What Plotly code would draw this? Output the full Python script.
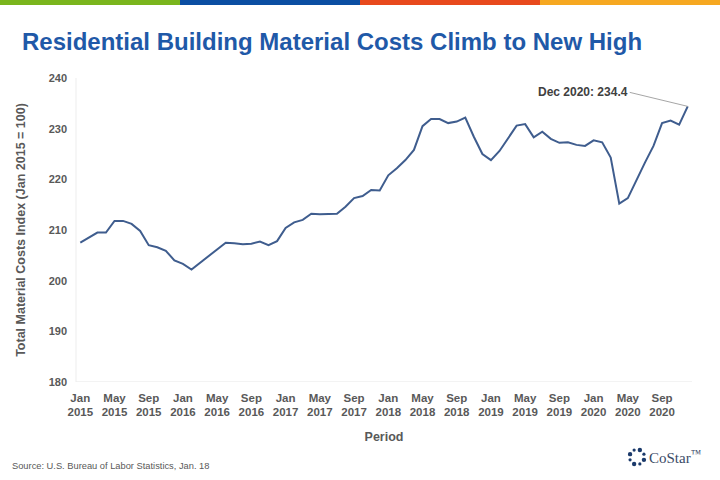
import math
import plotly.graph_objects as go

months = ["Jan", "Feb", "Mar", "Apr", "May", "Jun", "Jul", "Aug", "Sep", "Oct", "Nov", "Dec"]
years = [2015, 2016, 2017, 2018, 2019, 2020]
periods = [f"{m} {y}" for y in years for m in months]

index_values = [
    207.5, 208.5, 209.5, 209.5, 211.8, 211.8, 211.2, 209.8, 207.0, 206.6, 205.9, 204.0,
    203.3, 202.2, 203.5, 204.9, 206.2, 207.5, 207.4, 207.2, 207.3, 207.7, 207.0, 207.8,
    210.4, 211.5, 212.0, 213.2, 213.1, 213.1, 213.2, 214.6, 216.3, 216.7, 217.9, 217.8,
    220.8, 222.2, 223.8, 225.8, 230.5, 231.9, 231.9, 231.1, 231.4, 232.2, 228.4, 225.0,
    223.8, 225.6, 228.2, 230.6, 230.9, 228.3, 229.4, 228.0, 227.2, 227.3, 226.8, 226.6,
    227.7, 227.3, 224.3, 215.2, 216.3, 219.9, 223.3, 226.6, 231.1, 231.6, 230.8, 234.4,
]

tick_idx = list(range(0, 72, 4))
tick_text = [periods[i].replace(" ", "<br>") for i in tick_idx]
y_ticks = [180, 190, 200, 210, 220, 230, 240]

x_idx = list(range(len(periods)))

# plot-area geometry (pixels) used to place paper-referenced decorations
L, R, T, B = 76, 692, 78, 382
PW, PH = R - L, B - T


def px(xp):
    return (xp - L) / PW


def py(yp):
    return (B - yp) / PH


fig = go.Figure()
fig.add_trace(go.Scatter(
    x=x_idx, y=index_values, mode="lines",
    line=dict(color="#3F5D8E", width=2),
    customdata=periods, hovertemplate="%{customdata}: %{y}<extra></extra>",
))

gray = "#595959"
fig.update_layout(
    width=720, height=480,
    margin=dict(l=L, r=720 - R, t=T, b=480 - B),
    paper_bgcolor="white", plot_bgcolor="white",
    showlegend=False,
    font=dict(family="Liberation Sans, Arial, sans-serif", color=gray),
    xaxis=dict(
        range=[-0.5, 71.5], tickmode="array", tickvals=tick_idx, ticktext=tick_text,
        tickfont=dict(size=11.5, color=gray, weight="bold"),
        showgrid=False, zeroline=False, showline=False, ticks="",
        ticklabelstandoff=7,
        title=dict(text="Period", font=dict(size=12.5, color=gray, weight="bold"), standoff=14),
    ),
    yaxis=dict(
        range=[180, 240], tickmode="array", tickvals=y_ticks,
        tickfont=dict(size=11, color=gray, weight="bold"),
        showgrid=False, zeroline=False, showline=False, ticks="",
        ticklabelstandoff=8,
        title=dict(text="Total Material Costs Index (Jan 2015 = 100)",
                   font=dict(size=12.5, color=gray, weight="bold"), standoff=20),
    ),
)

# faint axis frame lines
fig.add_shape(type="line", xref="paper", yref="y", x0=0, x1=1, y0=180, y1=180,
              line=dict(color="#E6E6E6", width=1))
fig.add_shape(type="line", xref="paper", yref="paper", x0=0, x1=0, y0=0, y1=1,
              line=dict(color="#EDEDED", width=1))

# top colour band
band_colors = ["#7AB51D", "#0B4EA2", "#E8491D", "#F6A821"]
for k, c in enumerate(band_colors):
    fig.add_shape(type="rect", xref="paper", yref="paper",
                  x0=px(k * 180), x1=px((k + 1) * 180),
                  y0=py(5), y1=py(0),
                  line=dict(width=0), fillcolor=c, layer="above")

# title
fig.add_annotation(xref="paper", yref="paper", x=px(20), y=py(42),
                   xanchor="left", yanchor="middle", showarrow=False,
                   text="<b>Residential Building Material Costs Climb to New High</b>",
                   font=dict(size=24, color="#1F59A8", family="Liberation Sans, Arial, sans-serif"))

# callout
fig.add_annotation(x=71, y=index_values[-1], xref="x", yref="y",
                   text=f"<b>{periods[-1]}: {index_values[-1]}</b>",
                   showarrow=True, arrowhead=0, arrowwidth=1, arrowcolor="#A6A6A6",
                   ax=-58, ay=-14, xanchor="right", yanchor="middle",
                   font=dict(size=12, color="#404040"))

# source
fig.add_annotation(xref="paper", yref="paper", x=px(10), y=py(466),
                   xanchor="left", yanchor="middle", showarrow=False,
                   text="Source: U.S. Bureau of Labor Statistics, Jan. 18",
                   font=dict(size=9.3, color="#595959"))

# CoStar logo
cx, cy, rr = 637, 457, 7.5
for k in range(8):
    a = 2 * math.pi * k / 8 + math.pi / 8
    dx = cx + rr * math.cos(a)
    dy = cy + rr * math.sin(a)
    s = 2.2 if k % 2 == 0 else 1.6
    fig.add_shape(type="circle", xref="paper", yref="paper",
                  x0=px(dx - s), x1=px(dx + s),
                  y0=py(dy + s), y1=py(dy - s),
                  line=dict(width=0), fillcolor="#1B3A6B")
fig.add_annotation(xref="paper", yref="paper", x=px(647), y=py(457),
                   xanchor="left", yanchor="middle", showarrow=False,
                   text="CoStar<sup>™</sup>",
                   font=dict(size=15, color="#3A4A66", family="Liberation Serif, serif"))

fig.write_html("out.html", config={"displayModeBar": False},
               post_script="document.body.style.margin='0';")
